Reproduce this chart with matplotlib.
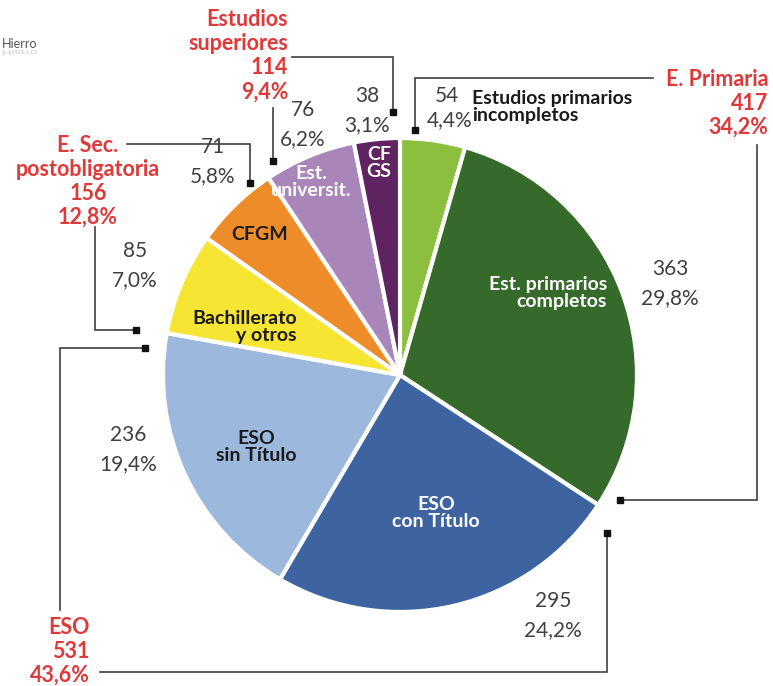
import matplotlib.pyplot as plt
from matplotlib.textpath import TextPath
from matplotlib.patches import PathPatch
from matplotlib.font_manager import FontProperties
import matplotlib.transforms as mtransforms

plt.rcParams['font.family'] = ['Lato', 'DejaVu Sans']

W, H = 773, 686

# slices, clockwise from the top
categories = ['Estudios primarios incompletos', 'Est. primarios completos',
              'ESO con Título', 'ESO sin Título', 'Bachillerato y otros',
              'CFGM', 'Est. universit.', 'CF GS']
values = [54, 363, 295, 236, 85, 71, 76, 38]
percents = ['4,4%', '29,8%', '24,2%', '19,4%', '7,0%', '5,8%', '6,2%', '3,1%']
colors = ['#8dbf3e', '#356a2b', '#3d64a0', '#9cb9dd', '#f6e532',
          '#ef8c2a', '#a886b9', '#5e2360']

# text inside the slices
inner_text = ['', 'Est. primarios\ncompletos', 'ESO\ncon Título', 'ESO\nsin Título',
              'Bachillerato\ny otros', 'CFGM', 'Est.\nuniversit.', 'CF\nGS']
inner_color = ['w', 'w', 'w', '#1a1a1a', '#1a1a1a', '#1a1a1a', 'w', 'w']
inner_pos = [(0, 0), (607, 293), (436, 513), (256, 447), (297, 327),
             (260, 235), (311, 182), (379, 163)]
inner_ha = ['center', 'right', 'center', 'center', 'right',
            'center', 'center', 'center']

# value / share labels outside the slices
outer_pos = [(447, 96), (670, 269), (553, 601), (128, 435), (135, 251),
             (213, 147), (303, 110), (367, 96)]

# group totals
groups = [('Estudios\nsuperiores\n114\n9,4%', 288, 20, 'right'),
          ('E. Primaria\n417\n34,2%', 768, 79, 'right'),
          ('E. Sec.\npostobligatoria\n156\n12,8%', 88, 145, 'center'),
          ('ESO\n531\n43,6%', 90, 627, 'right')]

# connector polylines (pixel coordinates, last point gets a square marker)
connectors = [
    [(292, 57), (393, 57), (393, 112)],
    [(273, 108), (273, 161)],
    [(653, 78), (415, 78), (415, 130)],
    [(757, 145), (757, 500), (620, 500)],
    [(127, 144), (250, 144), (250, 183)],
    [(95, 227), (95, 330), (136, 330)],
    [(60, 610), (60, 348), (145, 348)],
    [(100, 672), (607, 672), (607, 533)],
]

RED = '#e0393a'
GRAY = '#404040'


def Y(y):
    return H - y


fig = plt.figure(figsize=(W / 100, H / 100), dpi=100)
ax = fig.add_axes([0, 0, 1, 1])

wedges, _ = ax.pie(values, colors=colors, startangle=90, counterclock=False,
                   center=(400, Y(375)), radius=237,
                   wedgeprops=dict(edgecolor='white', linewidth=3))

for txt, col, (x, y), ha in zip(inner_text, inner_color, inner_pos, inner_ha):
    if txt:
        ax.text(x, Y(y), txt, color=col, fontsize=14, fontweight='bold',
                ha=ha, va='center', multialignment=ha, linespacing=1.0)

ax.text(472, Y(107), 'Estudios primarios\nincompletos', color='#1a1a1a',
        fontsize=14, fontweight='bold', ha='left', va='center', linespacing=0.95)

for v, p, (x, y) in zip(values, percents, outer_pos):
    ax.text(x, Y(y), str(v), color=GRAY, fontsize=15, ha='center', va='center')
    ax.text(x + (3 if v == 54 else 0), Y(y + 29 if v != 54 else y + 24), p,
            color=GRAY, fontsize=15, ha='center', va='center')

for txt, x, y, ha in groups:
    for i, line in enumerate(txt.split('\n')):
        ax.text(x, Y(y + i * 24), line, color=RED, fontsize=15.5,
                fontweight='bold', ha=ha, va='center')

for pts in connectors:
    xs = [p[0] for p in pts]
    ys = [Y(p[1]) for p in pts]
    ax.plot(xs, ys, color=GRAY, lw=1.2, solid_joinstyle='miter')
    ax.plot(xs[-1], ys[-1], marker='s', ms=4.5, color='#111111')

# caption fragment with reflection in the corner
ax.text(2, Y(48), 'Hierro', color='#555555', fontsize=9, ha='left', va='baseline')
tp = TextPath((0, 0), 'Hierro', size=12.5, prop=FontProperties(family='Lato'))
tr = mtransforms.Affine2D().scale(1, -0.6).translate(2, Y(50)) + ax.transData
ax.add_patch(PathPatch(tp, transform=tr, color='#cccccc', lw=0))

ax.set_xlim(0, W)
ax.set_ylim(0, H)
ax.set_aspect('auto')
ax.axis('off')

fig.savefig('out.png', dpi=100)
